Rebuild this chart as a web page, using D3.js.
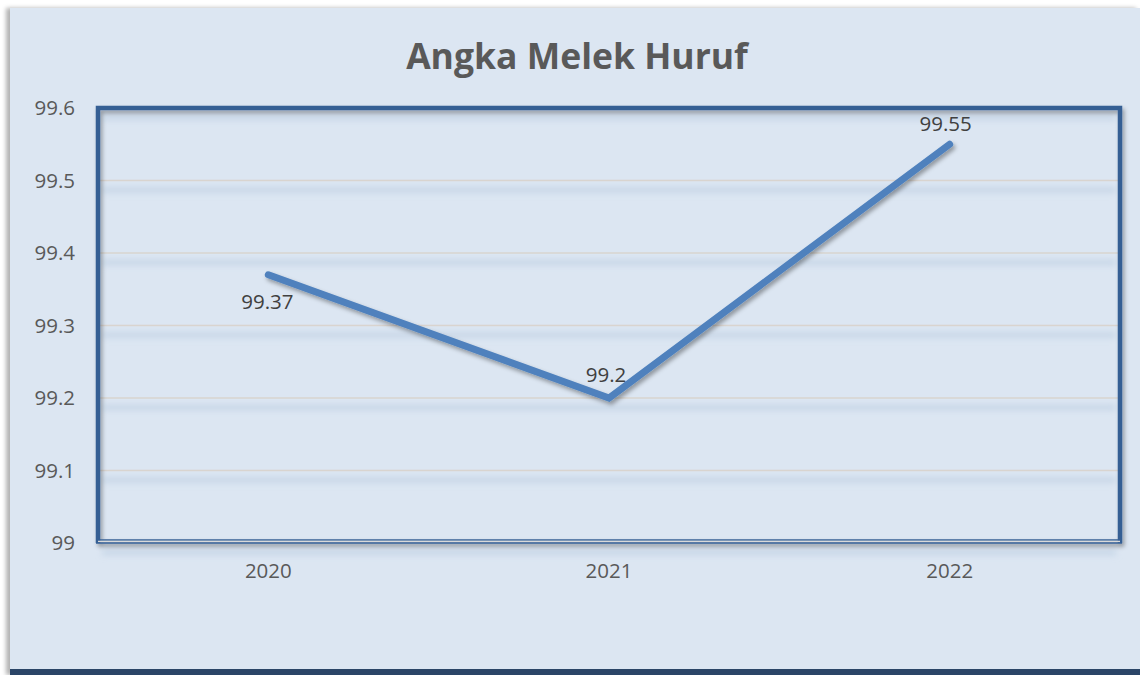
<!DOCTYPE html>
<html><head><meta charset="utf-8">
<script src="https://cdn.jsdelivr.net/npm/d3@7"></script>
<style>html,body{margin:0;padding:0;background:#fff;}svg{display:block;}</style>
</head><body>
<script>
const categories = ["2020", "2021", "2022"];
const values = [99.37, 99.2, 99.55];
const valueLabels = ["99.37", "99.2", "99.55"];
const yTicks = [99, 99.1, 99.2, 99.3, 99.4, 99.5, 99.6];
const title = "Angka Melek Huruf";

const W = 1140, H = 675;
const svg = d3.select("body").append("svg").attr("width", W).attr("height", H);
const defs = svg.append("defs");
const f = defs.append("filter").attr("id","sh").attr("x","-10%").attr("y","-10%").attr("width","120%").attr("height","130%");
f.append("feDropShadow").attr("dx",2).attr("dy",3).attr("stdDeviation",2).attr("flood-color","#000").attr("flood-opacity",0.35);
const fb = defs.append("filter").attr("id","blur").attr("x","-5%").attr("y","-200%").attr("width","110%").attr("height","500%");
fb.append("feGaussianBlur").attr("stdDeviation",3);
const fo = defs.append("filter").attr("id","outer").attr("x","-5%").attr("y","-5%").attr("width","110%").attr("height","110%");
fo.append("feDropShadow").attr("dx",-4).attr("dy",0).attr("stdDeviation",2).attr("flood-color","#000").attr("flood-opacity",0.3);

// outer background
svg.append("rect").attr("x",10).attr("y",8).attr("width",W-10).attr("height",H-8).attr("fill","#dce6f2").attr("filter","url(#outer)");
svg.append("rect").attr("x",10).attr("y",669).attr("width",W-10).attr("height",6).attr("fill","#2b4567");

const m = {left: 98, right: 1120, top: 108, bottom: 543};
const x = d3.scaleBand().domain(categories).range([m.left, m.right]);
const y = d3.scaleLinear().domain([99, 99.6]).range([m.bottom, m.top]);

// title
svg.append("text").attr("x", 577).attr("y", 69).attr("text-anchor","middle")
  .attr("font-family","'Open Sans', sans-serif").attr("font-weight","bold").attr("font-size",35.5)
  .attr("fill","#595959").text(title);

// grid bands and lines
const g = svg.append("g");
g.selectAll("rect.band").data(yTicks).join("rect")
  .attr("x", m.left+4).attr("width", m.right-m.left-8)
  .attr("y", d => y(d)+7).attr("height", 5).attr("fill","#c4d4e6").attr("filter","url(#blur)");
g.selectAll("line.grid").data(yTicks.slice(1,-1)).join("line")
  .attr("x1", m.left).attr("x2", m.right).attr("y1", d=>y(d)).attr("y2", d=>y(d))
  .attr("stroke","#d9d4cf").attr("stroke-width",1.5);

// y axis labels
const yAxis = d3.axisLeft(y).tickValues(yTicks).tickSize(0).tickPadding(23).tickFormat(d => String(+d.toFixed(1)));
const ya = svg.append("g").attr("transform",`translate(${m.left},0)`).call(yAxis);
ya.select(".domain").remove();
ya.selectAll("text").attr("font-family","'Open Sans', sans-serif").attr("font-size",20.5).attr("fill","#595959");

// x axis labels
const xAxis = d3.axisBottom(x).tickSize(0).tickPadding(20);
const xa = svg.append("g").attr("transform",`translate(0,${m.bottom})`).call(xAxis);
xa.select(".domain").remove();
xa.selectAll("text").attr("font-family","'Open Sans', sans-serif").attr("font-size",20.5).attr("fill","#595959");

// plot border
const border = svg.append("g").attr("filter","url(#sh)");
border.append("path")
  .attr("d", `M${m.left},${m.bottom} L${m.left},${m.top} L${m.right},${m.top} L${m.right},${m.bottom}`)
  .attr("fill","none").attr("stroke","#355f94").attr("stroke-width",4.5);
border.append("line").attr("x1",m.left).attr("x2",m.right).attr("y1",m.bottom-3).attr("y2",m.bottom-3).attr("stroke","#355f94").attr("stroke-width",1.5);
border.append("line").attr("x1",m.left).attr("x2",m.right).attr("y1",m.bottom-1.5).attr("y2",m.bottom-1.5).attr("stroke","#d9d9d9").attr("stroke-width",1.5);
border.append("line").attr("x1",m.left-2).attr("x2",m.right+2).attr("y1",m.bottom).attr("y2",m.bottom).attr("stroke","#355f94").attr("stroke-width",1.5);

// line
const data = categories.map((c,i)=>({c, v: values[i], l: valueLabels[i]}));
const line = d3.line().x(d => x(d.c)+x.bandwidth()/2).y(d => y(d.v));
svg.append("path").datum(data).attr("d", line).attr("fill","none")
  .attr("stroke","#4f81bd").attr("stroke-width",7).attr("stroke-linecap","round").attr("stroke-linejoin","miter")
  .attr("filter","url(#sh)");

// data labels
const offs = [{dx: -1, dy: 34}, {dx: -3, dy: -16}, {dx: -4, dy: -13}];
svg.selectAll("text.lbl").data(data).join("text")
  .attr("x", (d,i) => x(d.c)+x.bandwidth()/2 + offs[i].dx)
  .attr("y", (d,i) => y(d.v) + offs[i].dy)
  .attr("text-anchor","middle").attr("font-family","'Open Sans', sans-serif").attr("font-size",20.5)
  .attr("fill","#404040").text(d => d.l);
</script>
</body></html>
